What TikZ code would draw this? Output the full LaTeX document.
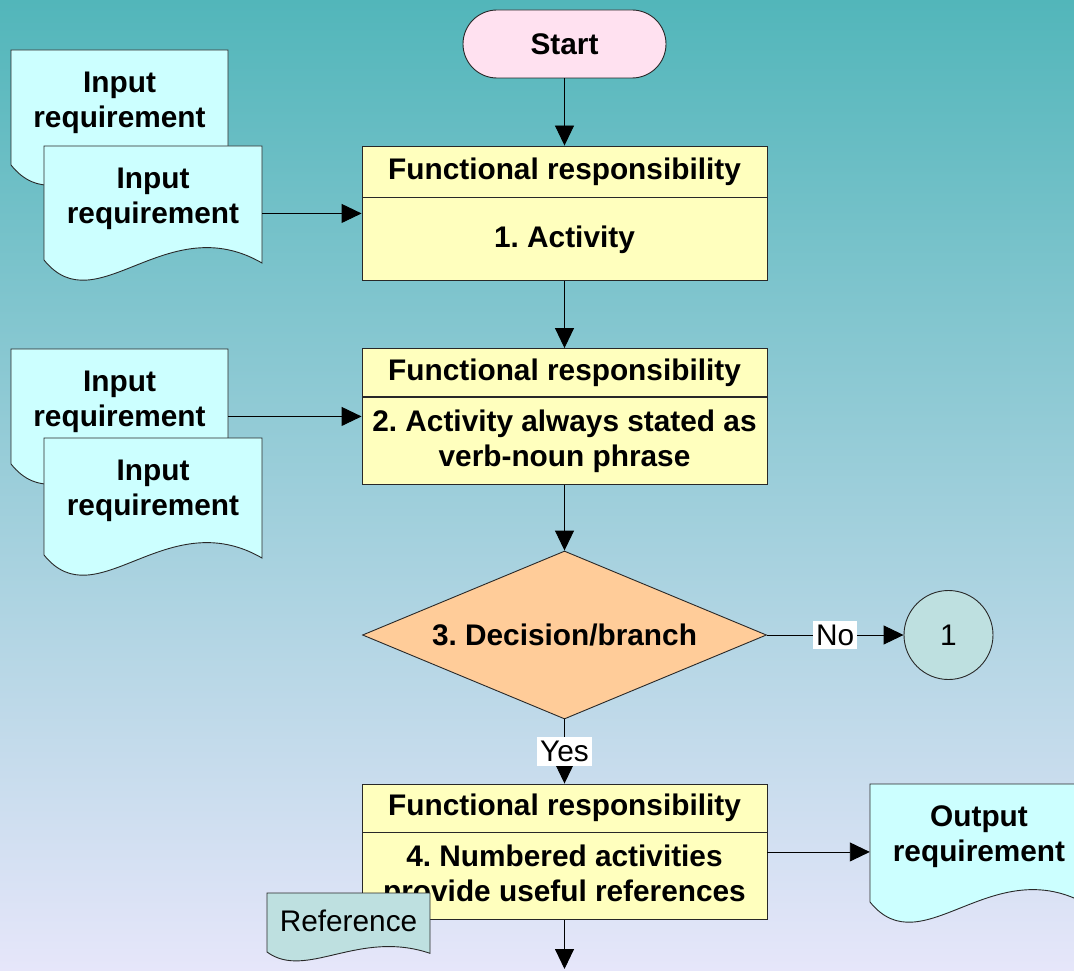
\documentclass[tikz,border=0pt]{standalone}
\usepackage{fontspec}
\setmainfont{Liberation Sans}
\usetikzlibrary{shapes.geometric,arrows.meta,calc}

\definecolor{bgtop}{RGB}{82,182,186}
\definecolor{bgmid}{RGB}{176,208,226}
\definecolor{bgbot}{RGB}{230,230,250}
\definecolor{docfill}{RGB}{204,255,255}
\definecolor{actfill}{RGB}{255,255,190}
\definecolor{startfill}{RGB}{255,225,240}
\definecolor{decfill}{RGB}{255,204,153}
\definecolor{connfill}{RGB}{190,224,224}
\definecolor{edge}{RGB}{40,40,40}

\tikzset{
  outline/.style={draw=edge, line width=0.9pt},
  bigbold/.style={font=\frenchspacing\fontsize{29.8}{35}\selectfont\bfseries},
  plain/.style={font=\frenchspacing\fontsize{29.8}{35}\selectfont},
  startbox/.style={outline, fill=startfill, rectangle, rounded corners=34pt,
    minimum width=203pt, minimum height=68pt, inner sep=0pt, bigbold},
  hdrbox/.style={outline, fill=actfill, rectangle, minimum width=405pt,
    inner sep=0pt, bigbold},
  bodybox/.style={outline, fill=actfill, rectangle, minimum width=405pt,
    inner sep=0pt, bigbold, align=center},
  doctext/.style={rectangle, minimum width=#1, inner sep=0pt, bigbold, align=center},
  decbox/.style={outline, fill=decfill, diamond, minimum width=404pt,
    minimum height=168pt, aspect=2.4, inner sep=0pt, bigbold},
  connbox/.style={outline, fill=connfill, circle, minimum size=89pt,
    inner sep=0pt, plain},
  lbl/.style={fill=white, inner xsep=3pt, inner ysep=4pt, plain},
  flow/.style={draw=black, line width=0.9pt, -{Triangle[length=20pt,width=19pt]}},
}

% document sheet: name, left, top, width, text height, extra depth, wave amplitude, fill, text
\newcommand\docsheet[9]{%
  \filldraw[outline, fill=#8] (#2,#3) -- ++(#4,0) -- ++(0,#5+#6+0.06*#7)
    .. controls ($(#2,#3)+(0.56*#4,#5+#6-1.05*#7)$) and ($(#2,#3)+(0.24*#4,#5+#6+1.3*#7)$)
    .. ($(#2,#3)+(0,#5+#6)$) -- cycle;
  \node[doctext=#4pt, minimum height=#5pt] (#1) at ($(#2,#3)+(0.5*#4,0.5*#5+2.5)$) {#9};
}

\begin{document}
\begin{tikzpicture}[x=1pt,y=-1pt]
  \useasboundingbox (0,0) rectangle (1074,971);
  \clip (0,0) rectangle (1074,971);
  \shade[top color=bgtop, middle color=bgmid, bottom color=bgbot] (0,0) rectangle (1074,971);

  % input documents
  \docsheet{inA1}{11}{50}{217}{100}{15}{50}{docfill}{Input\\requirement}
  \docsheet{inB1}{44}{146}{218}{100}{14}{50}{docfill}{Input\\requirement}
  \docsheet{inA2}{11}{349}{217}{100}{15}{50}{docfill}{Input\\requirement}
  \docsheet{inB2}{44}{438}{218}{100}{17}{50}{docfill}{Input\\requirement}

  % start terminal
  \node[startbox] (start) at (564.5,44) {Start};

  % activity 1
  \node[hdrbox, minimum height=51pt] (h1) at (564.5,171.5) {Functional responsibility};
  \node[bodybox, minimum height=83pt, anchor=north] (a1) at (h1.south) {1. Activity};
  \coordinate (m1) at ($(h1.north)!0.5!(a1.south)$);

  % activity 2
  \node[hdrbox, minimum height=48pt] (h2) at (564.5,372.5) {Functional responsibility};
  \node[bodybox, minimum height=87pt, anchor=north] (a2) at (h2.south)
    {2. Activity always stated as\\verb-noun phrase};
  \coordinate (m2) at ($(h2.north)!0.5!(a2.south)$);

  % decision and off-page connector
  \node[decbox] (dec) at (564.5,635) {3. Decision/branch};
  \node[connbox] (c1) at (948.5,635) {1};

  % activity 4
  \node[hdrbox, minimum height=48pt] (h4) at (564.5,808) {Functional responsibility};
  \node[bodybox, minimum height=87pt, anchor=north] (a4) at (h4.south)
    {4. Numbered activities\\provide useful references};
  \coordinate (m4) at ($(h4.north)!0.5!(a4.south)$);

  % output document
  \docsheet{outdoc}{870}{784}{218}{100}{18}{50}{docfill}{Output\\requirement}

  % connectors
  \coordinate (endpt) at (564.5,969);
  \draw[flow] (start.south) -- (h1.north);
  \draw[flow] (inB1.east |- m1) -- (m1 -| a1.west);
  \draw[flow] (a1.south) -- (h2.north);
  \draw[flow] (inA2.east |- m2) -- (m2 -| a2.west);
  \draw[flow] (a2.south) -- (dec.north);
  \draw[flow] (dec.east) -- node[lbl] {No} (c1.west);
  \draw[flow] (dec.south) -- node[lbl] {Yes} (h4.north);
  \draw[flow] (m4 -| a4.east) -- (outdoc.west |- m4);
  \draw[flow] (a4.south) -- (endpt);

  % reference tag
  \docsheet{ref}{267}{893}{163}{50}{9}{22}{connfill}{\mdseries Reference}
\end{tikzpicture}
\end{document}
